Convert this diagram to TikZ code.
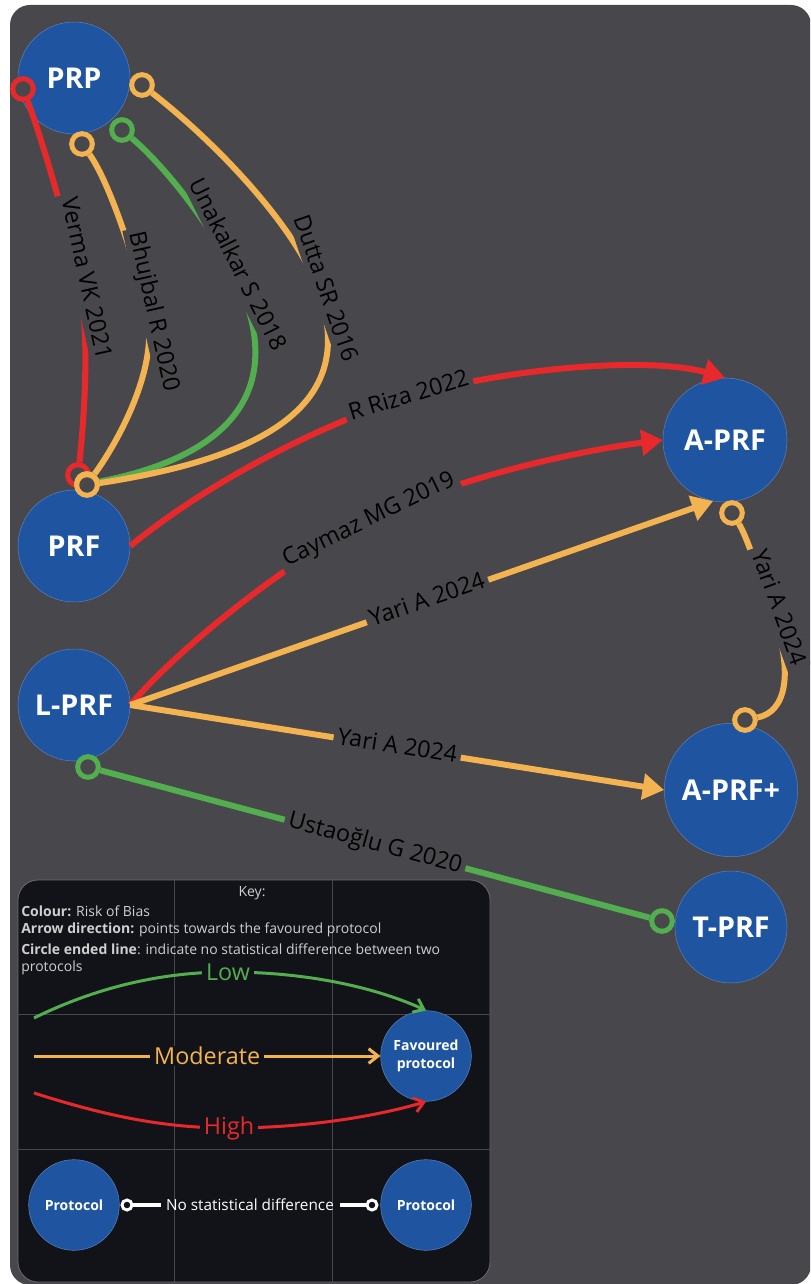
\documentclass[tikz,border=0pt]{standalone}
\usepackage{fontspec}
\setmainfont{Open Sans}
\usetikzlibrary{arrows.meta}
\definecolor{bgc}{HTML}{48474C}
\definecolor{keybg}{HTML}{121319}
\definecolor{keyborder}{HTML}{6A6A70}
\definecolor{gridc}{HTML}{46474E}
\definecolor{nodeblue}{HTML}{1F55A0}
\definecolor{nodeedge}{HTML}{5A7DB8}
\definecolor{rred}{HTML}{E8292B}
\definecolor{rorange}{HTML}{F2B350}
\definecolor{rgreen}{HTML}{53AE4F}
\definecolor{keytext}{HTML}{CFCFCF}
\begin{document}
\begin{tikzpicture}[x=0.75pt,y=-0.75pt,
  proto/.style={circle, fill=nodeblue, draw=nodeedge, line width=0.4pt, text=white, inner sep=0pt,
    font=\bfseries\fontsize{21.5}{24}\selectfont},
  smallproto/.style={proto, minimum size=68pt, align=center, font=\bfseries\fontsize{10.5}{13.5}\selectfont},
  edge/.style={line width=4.5pt},
  arr/.style={-{Triangle[length=16pt,width=19pt]}},
  lbl/.style={sloped, fill=bgc, text=black, font=\fontsize{17.5}{20}\selectfont,
    text height=12.8pt, text depth=3.6pt, inner xsep=3pt, inner ysep=1pt},
  ring/.style={circle, draw=#1, fill=bgc, line width=3.75pt, minimum size=15.5pt, inner sep=0pt},
  wring/.style={circle, draw=white, fill=keybg, line width=2.2pt, minimum size=7.5pt, inner sep=0pt},
  legline/.style={line width=2.25pt, -{Straight Barb[length=7pt,width=11pt]}},
  leglbl/.style={fill=keybg, font=\fontsize{17.5}{20}\selectfont, inner xsep=3pt, inner ysep=1pt},
  keytxt/.style={text=keytext, font=\fontsize{10.5}{12}\selectfont, inner sep=0pt, anchor=west}
]
\useasboundingbox (0,0) rectangle (810,1284);
\clip (0,0) rectangle (810,1284);
\fill[bgc, rounded corners=15pt] (10,5) rectangle (811,1285);

% ---------- protocol nodes
\node[proto, minimum size=84pt] (PRP) at (74,78) {PRP};
\node[proto, minimum size=84pt] (PRF) at (74,546) {PRF};
\node[proto, minimum size=84pt] (LPRF) at (74,705) {L-PRF};
\node[proto, minimum size=93pt] (APRF) at (725,440) {A-PRF};
\node[proto, minimum size=100pt] (APRFp) at (731,790) {A-PRF+};
\node[proto, minimum size=84pt] (TPRF) at (731,927) {T-PRF};

% ---------- ring ends
\node[ring=rred] (vA) at (23,89) {};
\node[ring=rorange] (bA) at (82,144) {};
\node[ring=rgreen] (uA) at (122,130) {};
\node[ring=rorange] (dA) at (142,85) {};
\node[ring=rred] (vB) at (78,475) {};
\node[ring=rgreen] (uB) at (87,484) {};
\node[ring=rorange] (bB) at (87,484) {};
\node[ring=rorange] (dB) at (87,485) {};
\node[ring=rorange] (yA) at (732,513) {};
\node[ring=rorange] (yB) at (745,720) {};
\node[ring=rgreen] (sA) at (88,767) {};
\node[ring=rgreen] (sB) at (662,921) {};

% ---------- PRP -- PRF edges
\draw[edge, rred] (vA) .. controls (41,136) and (66,221) .. (79,280)
  node[lbl, pos=1, anchor=base] {Verma VK 2021}
  .. controls (91,339) and (83,430) .. (vB);
\draw[edge, rorange] (bA) .. controls (108,180) and (134,255) .. (147,313)
  node[lbl, pos=1, anchor=base] {Bhujbal R 2020}
  .. controls (160,372) and (111,452) .. (bB);
\draw[edge, rgreen] (uA) .. controls (158,160) and (204,214) .. (231,268)
  node[lbl, pos=1, anchor=base] {Unakalkar S 2018}
  .. controls (281,362) and (262,450) .. (uB);
\draw[edge, rorange] (dA) .. controls (225,150) and (299,233) .. (319,291)
  node[lbl, pos=1, anchor=base] {Dutta SR 2016}
  .. controls (351,385) and (302,452) .. (dB);

% ---------- edges to A-PRF
\draw[edge, rred, arr] (PRF.east) .. controls (208,482) and (323,423) .. (409,397)
  node[lbl, pos=1] {R Riza 2022}
  .. controls (505,368) and (648,356) .. (APRF.north);
\draw[edge, rred, arr] (LPRF.east) .. controls (183,643) and (297,555) .. (369,520)
  node[lbl, pos=1] {Caymaz MG 2019}
  .. controls (459,476) and (584,450) .. (APRF.west);
\draw[edge, rorange, arr] (LPRF.east) -- node[lbl, pos=0.51] {Yari A 2024} (APRF.-101);
\draw[edge, rorange, arr] (LPRF.east) -- node[lbl, pos=0.5] {Yari A 2024} (APRFp.west);
\draw[edge, rorange] (yA) .. controls (746,535) and (755,563) .. (772,610)
  node[lbl, pos=1, anchor=base] {Yari A 2024}
  .. controls (795,676) and (785,712) .. (yB);
\draw[edge, rgreen] (sA) -- node[lbl, pos=0.5] {Ustaoğlu G 2020} (sB);

% ---------- key
\draw[draw=keyborder, fill=keybg, line width=0.6pt, rounded corners=15pt] (18,880) rectangle (490,1282);
\draw[gridc, line width=0.75pt] (174,880) -- (174,1282) (332,880) -- (332,1282)
  (18,1014) -- (490,1014) (18,1149) -- (490,1149);
\node[keytxt, anchor=center] (keyt) at (252,893) {Key:};
\node[keytxt] (k1) at (21,911) {\textbf{Colour:} Risk of Bias};
\node[keytxt] (k2) at (21,930) {\textbf{Arrow direction:} points towards the favoured protocol};
\node[keytxt] (k3) at (21,949) {\textbf{Circle ended line}: indicate no statistical difference between two};
\node[keytxt] (k4) at (21,968) {protocols};

\node[smallproto] (fav) at (426,1056) {Favoured\\protocol};
\node[smallproto] (p1) at (74,1205) {Protocol};
\node[smallproto] (p2) at (426,1205) {Protocol};

\coordinate (lowS) at (34,1018);
\coordinate (modS) at (34,1056);
\coordinate (hiS) at (34,1093);
\draw[legline, rgreen] (lowS) .. controls (95,988) and (160,972) .. (228,972)
  node[leglbl, text=rgreen, pos=1] {Low}
  .. controls (300,972) and (370,985) .. (fav.north);
\draw[legline, rorange] (modS) -- node[leglbl, text=rorange, pos=0.5] {Moderate} (fav.west);
\draw[legline, rred] (hiS) .. controls (100,1114) and (160,1128) .. (229,1128)
  node[leglbl, text=rred, pos=1] {High}
  .. controls (300,1128) and (370,1118) .. (fav.south);

\node[wring] (w1) at (127,1205) {};
\node[wring] (w2) at (372,1205) {};
\node[text=white, font=\fontsize{11.5}{14}\selectfont, inner xsep=4pt] (nsd) at (250,1205) {No statistical difference};
\draw[white, line width=2.6pt] (w1) -- (nsd) (nsd) -- (w2);
\end{tikzpicture}
\end{document}
